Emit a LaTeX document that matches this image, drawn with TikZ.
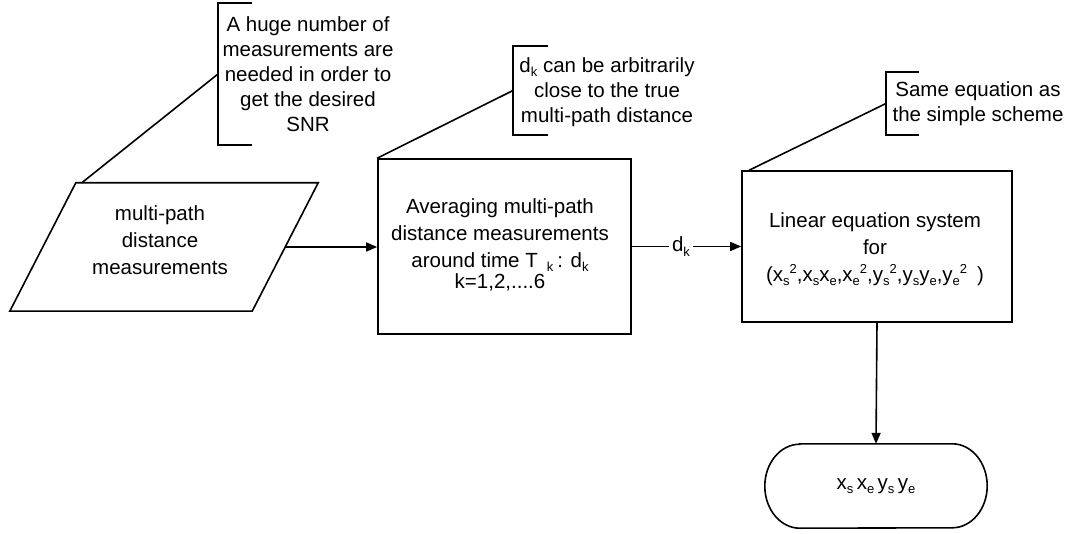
\documentclass[tikz,border=0pt]{standalone}
\usepackage{fontspec}
\setmainfont{Liberation Sans}
\usetikzlibrary{arrows.meta,calc}
\newcommand\sbs[1]{\raisebox{-0.4ex}{\fontsize{13}{13}\selectfont #1}}
\newcommand\sps[1]{\raisebox{0.75ex}{\fontsize{13}{13}\selectfont #1}}
\tikzset{
  x=1pt, y=-1pt,
  every node/.style={font=\fontsize{20.5}{27}\selectfont, align=center, inner sep=0pt},
  calltext/.style={font=\fontsize{20.5}{25}\selectfont},
  ln/.style={line width=1.6pt, line join=miter},
  arr/.style={ln, -{Triangle[length=11pt,width=9pt]}},
  boxline/.style={draw, line width=1.6pt},
}
\begin{document}
\begin{tikzpicture}
\useasboundingbox (0,0) rectangle (1081,534);
% parallelogram
\node[minimum width=308pt, minimum height=128pt] (para) at (164,247) {};
\draw[ln] ([xshift=66pt]para.north west) -- (para.north east) -- ([xshift=-66pt]para.south east) -- (para.south west) -- cycle;
\coordinate (paraR) at ($(para.north east)!0.5!([xshift=-66pt]para.south east)$);
\node (paratext) at (160,240) {multi-path\\distance\\measurements};
% box 2
\node[boxline, minimum width=253pt, minimum height=175pt] (box2) at (504.5,246.5) {};
\node (box2text) at (500,245) {Averaging multi-path\\distance measurements\\around time T\hspace{9pt}\sbs{k}\hspace{4pt}: d\sbs{k}\\[-6pt]k=1,2,....6};
% box 3
\node[boxline, minimum width=270pt, minimum height=151pt] (box3) at (877,246.5) {};
\node (box3text) at (875,249) {Linear equation system\\for\\(x\sbs{s}\sps{2},x\sbs{s}x\sbs{e},x\sbs{e}\sps{2},y\sbs{s}\sps{2},y\sbs{s}y\sbs{e},y\sbs{e}\sps{2}\hspace{10pt})};
% terminator
\node[minimum width=222pt, minimum height=84pt] (term) at (876,486) {x\sbs{s}\,x\sbs{e}\,y\sbs{s}\,y\sbs{e}};
\draw[ln] ([xshift=35pt]term.north west) -- ([xshift=-35pt]term.north east)
  arc[start angle=-90, end angle=90, x radius=35, y radius=42]
  -- ([xshift=35pt]term.south west)
  arc[start angle=90, end angle=270, x radius=35, y radius=42] -- cycle;
% callout 1
\coordinate (c1t) at (218,3);
\coordinate (c1b) at (218,145);
\draw[ln] ([xshift=34pt]c1t) -- (c1t) -- (c1b) -- ([xshift=34pt]c1b);
\coordinate (c1m) at ($(c1t)!0.5!(c1b)$);
\node[calltext] (call1) at (308,74) {A huge number of\\measurements are\\needed in order to\\get the desired\\SNR};
\draw[ln] (c1m) -- ([xshift=72pt]para.north west);
% callout 2
\coordinate (c2t) at (513,46);
\coordinate (c2b) at (513,135);
\draw[ln] ([xshift=35pt]c2t) -- (c2t) -- (c2b) -- ([xshift=35pt]c2b);
\coordinate (c2m) at ($(c2t)!0.5!(c2b)$);
\node[calltext] (call2) at (607,92) {d\sbs{k} can be arbitrarily\\close to the true\\multi-path distance};
\draw[ln] (c2m) -- (box2.north west);
% callout 3
\coordinate (c3t) at (886,72);
\coordinate (c3b) at (886,135);
\draw[ln] ([xshift=33pt]c3t) -- (c3t) -- (c3b) -- ([xshift=33pt]c3b);
\coordinate (c3m) at ($(c3t)!0.5!(c3b)$);
\node[calltext] (call3) at (978,104) {Same equation as\\the simple scheme};
\draw[ln] (c3m) -- ([xshift=8pt]box3.north west);
% connectors
\draw[arr] (paraR) -- (paraR -| box2.west);
\draw[arr] (box2.east) -- node[pos=0.45, fill=white, inner xsep=3pt, inner ysep=2pt] (dklabel) {d\sbs{k}} (box3.west);
\draw[arr] (box3.south) -- (term.north);
\end{tikzpicture}
\end{document}
